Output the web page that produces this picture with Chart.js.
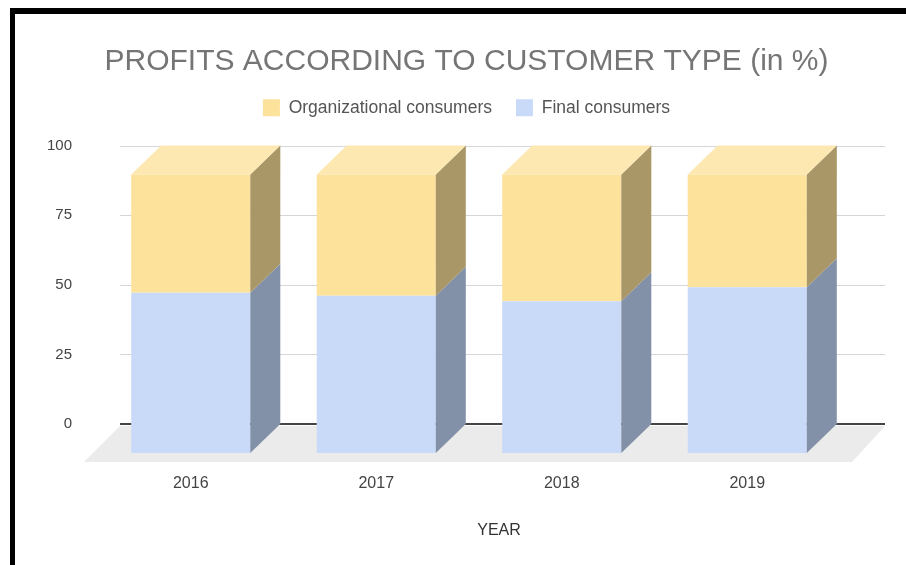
<!DOCTYPE html>
<html>
<head>
<meta charset="utf-8">
<script src="https://cdn.jsdelivr.net/npm/chart.js@4.4.1/dist/chart.umd.min.js"></script>
<style>
  html, body { margin: 0; padding: 0; background: #fff; }
  #wrap { position: relative; width: 906px; height: 565px; overflow: hidden; }
  #frame { position: absolute; left: 10px; top: 8px; right: 0; bottom: 0;
    border-left: 5px solid #000; border-top: 6px solid #000; pointer-events: none; }
</style>
</head>
<body>
<div id="wrap">
  <canvas id="chart" width="906" height="565"></canvas>
  <div id="frame"></div>
</div>
<script>
// data (percent of profits)
const years = ['2016', '2017', '2018', '2019'];
const finalConsumers = [57.5, 56.5, 54.5, 59.5];
const organizationalConsumers = [42.5, 43.5, 45.5, 40.5];

// depth of the fake 3d extrusion
const dx = 30;
const dy = 29;

const colors = {
  final: { front: '#c9daf8', side: '#8391a8' },
  org: { front: '#fde29c', side: '#a99768', top: '#fde8b2' }
};

Chart.defaults.font.family = "'Liberation Sans', Arial, sans-serif";

const threeD = {
  id: 'threeD',
  beforeDatasetsDraw(chart) {
    const ctx = chart.ctx;
    const a = chart.chartArea;
    const y = chart.scales.y;
    const y0 = y.getPixelForValue(0);
    const gl = a.left - 8, gr = a.right + 15;

    ctx.save();
    // floor
    ctx.fillStyle = '#ebebeb';
    ctx.beginPath();
    ctx.moveTo(gl, y0 + 2);
    ctx.lineTo(gr, y0 + 2);
    ctx.lineTo(gr - 33, y0 + 38);
    ctx.lineTo(gl - 36, y0 + 38);
    ctx.closePath();
    ctx.fill();

    // back wall grid
    y.ticks.forEach(t => {
      const py = Math.round(y.getPixelForValue(t.value));
      ctx.beginPath();
      if (t.value === 0) {
        ctx.strokeStyle = '#444';
        ctx.lineWidth = 2;
        ctx.moveTo(gl, py);
        ctx.lineTo(gr, py);
      } else {
        ctx.strokeStyle = '#d6d6d6';
        ctx.lineWidth = 1;
        ctx.moveTo(gl, py + 0.5);
        ctx.lineTo(gr, py + 0.5);
      }
      ctx.stroke();
    });
    ctx.restore();

    // front faces are pushed forward (down-left)
    ctx.save();
    ctx.translate(-dx, dy);
  },
  afterDatasetsDraw(chart) {
    const ctx = chart.ctx;
    ctx.restore();
    const n = chart.data.datasets.length;
    chart.data.datasets.forEach((ds, i) => {
      const meta = chart.getDatasetMeta(i);
      meta.data.forEach(el => {
        const p = el.getProps(['x', 'y', 'base', 'width'], true);
        const left = p.x - p.width / 2 - dx;
        const right = p.x + p.width / 2 - dx;
        const top = p.y + dy;
        const bottom = p.base + dy;
        ctx.fillStyle = ds.sideColor;
        ctx.beginPath();
        ctx.moveTo(right, bottom);
        ctx.lineTo(right + dx, bottom - dy);
        ctx.lineTo(right + dx, top - dy);
        ctx.lineTo(right, top);
        ctx.closePath();
        ctx.fill();
        if (i === n - 1) {
          ctx.fillStyle = ds.topColor;
          ctx.beginPath();
          ctx.moveTo(left, top);
          ctx.lineTo(left + dx, top - dy);
          ctx.lineTo(right + dx, top - dy);
          ctx.lineTo(right, top);
          ctx.closePath();
          ctx.fill();
        }
      });
    });
  }
};

new Chart(document.getElementById('chart'), {
  type: 'bar',
  data: {
    labels: years,
    datasets: [
      {
        label: 'Final consumers',
        data: finalConsumers,
        backgroundColor: colors.final.front,
        sideColor: colors.final.side
      },
      {
        label: 'Organizational consumers',
        data: organizationalConsumers,
        backgroundColor: colors.org.front,
        sideColor: colors.org.side,
        topColor: colors.org.top
      }
    ]
  },
  options: {
    responsive: false,
    animation: false,
    events: [],
    datasets: { bar: { categoryPercentage: 1, barPercentage: 0.642, borderWidth: 0, clip: false } },
    layout: { padding: { top: 0, left: 47, right: 20, bottom: 0 } },
    plugins: {
      title: {
        display: true,
        text: 'PROFITS ACCORDING TO CUSTOMER TYPE (in %)',
        color: '#757575',
        font: { size: 30, weight: 'normal', lineHeight: 0.9 },
        padding: { top: 48, bottom: 0 }
      },
      legend: {
        reverse: true,
        labels: { boxWidth: 17, boxHeight: 17, padding: 24, color: '#555', font: { size: 17.5 } }
      },
      tooltip: { enabled: false }
    },
    scales: {
      x: {
        stacked: true,
        grid: { display: false, drawTicks: false },
        border: { display: false },
        ticks: { color: '#444', font: { size: 16 }, padding: 50, labelOffset: -dx },
        title: { display: true, text: 'YEAR', color: '#333', font: { size: 16 }, padding: { top: 0, bottom: 25 } },
        afterFit(s) { s.height = 141; }
      },
      y: {
        stacked: true,
        min: 0,
        max: 100,
        grid: { display: false, drawTicks: false },
        border: { display: false },
        ticks: { stepSize: 25, color: '#444', font: { size: 15 }, padding: 56 },
        afterFit(s) { s.width = 81; }
      },
      // spacers so the plot sits where the reference has it
      xTop: {
        position: 'top',
        grid: { display: false }, border: { display: false }, ticks: { display: false },
        afterFit(s) { s.height = 19; }
      },
      yRight: {
        position: 'right',
        grid: { display: false }, border: { display: false }, ticks: { display: false },
        afterFit(s) { s.width = 16; }
      }
    }
  },
  plugins: [threeD]
});
</script>
</body>
</html>
